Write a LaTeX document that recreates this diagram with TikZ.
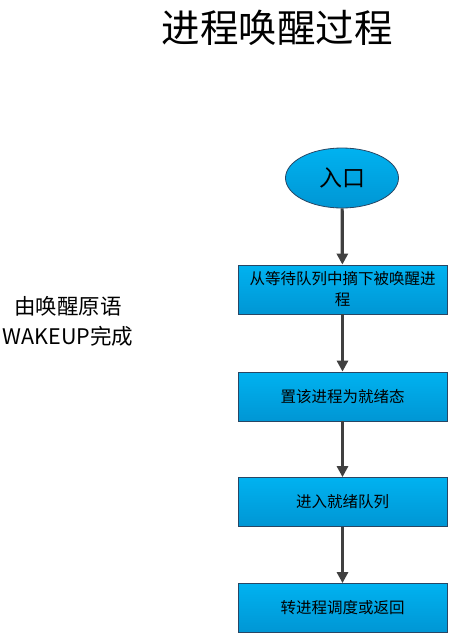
\documentclass[tikz,border=0pt]{standalone}
\usepackage{fontspec}
\newfontfamily\cjk{Noto Sans CJK SC}
\usepackage{tikz}
\usetikzlibrary{arrows.meta,shapes.geometric}
\definecolor{BoxTop}{RGB}{0,178,240}
\definecolor{BoxBottom}{RGB}{0,150,212}
\definecolor{BoxEdge}{RGB}{40,70,100}
\definecolor{ArrowCol}{RGB}{64,64,64}

\begin{document}
\begin{tikzpicture}[
  x=1pt, y=-1pt,
  >={Triangle[length=11pt,width=11pt]},
  every node/.style={font=\cjk},
  stepbox/.style={draw=BoxEdge, line width=0.8pt, top color=BoxTop,
    bottom color=BoxBottom, minimum width=209pt, minimum height=49pt,
    align=center, inner sep=2pt, font=\cjk\fontsize{15.5}{21}\selectfont},
  entry/.style={ellipse, draw=BoxEdge, line width=0.8pt, top color=BoxTop,
    bottom color=BoxBottom, minimum width=113pt, minimum height=60pt,
    inner sep=0pt, font=\cjk\fontsize{23}{26}\selectfont},
  flow/.style={->, line width=3.2pt, ArrowCol}
]
  \useasboundingbox (0,0) rectangle (449,635);

  % Title and side note
  \node (title) at (277,28) {\fontsize{38.5}{42}\selectfont 进程唤醒过程};
  \node[align=center, font=\cjk\fontsize{21.5}{30}\selectfont] (note) at (68,321)
    {由唤醒原语\\WAKEUP完成};

  % Flow
  \node[entry]   (start) at (342,178) {入口};
  \node[stepbox] (take)  at (342.5,289.5) {从等待队列中摘下被唤醒进\\程};
  \node[stepbox] (ready) at (342.5,396.5) {置该进程为就绪态};
  \node[stepbox] (queue) at (342.5,502)   {进入就绪队列};
  \node[stepbox] (sched) at (342.5,608)   {转进程调度或返回};

  \draw[flow] (start) -- (take);
  \draw[flow] (take)  -- (ready);
  \draw[flow] (ready) -- (queue);
  \draw[flow] (queue) -- (sched);
\end{tikzpicture}
\end{document}
